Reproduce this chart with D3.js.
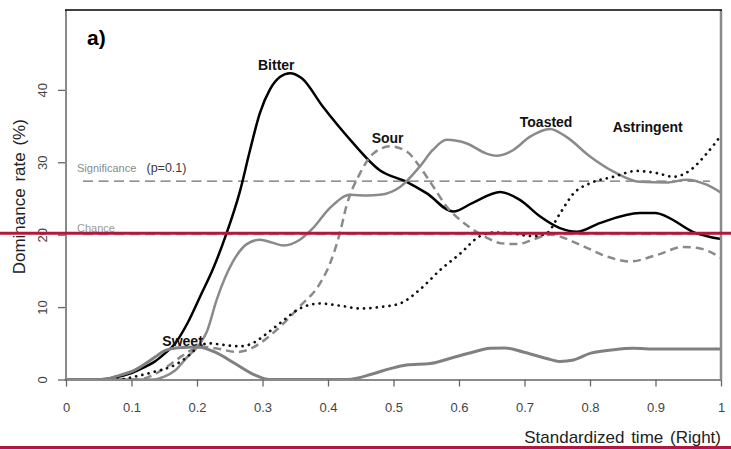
<!DOCTYPE html>
<html>
<head>
<meta charset="utf-8">
<script src="https://cdn.jsdelivr.net/npm/d3@7"></script>
<style>
  html, body { margin: 0; padding: 0; background: #fff; }
  svg { display: block; font-family: "Liberation Sans", Arial, sans-serif; }
</style>
</head>
<body>
<svg id="chart" width="731" height="450"></svg>
<script>
// Dominance rate (%) over standardized time, one [time, rate] list per attribute
const bitter = [[0,0],[0.05,0],[0.07,0.2],[0.1,0.9],[0.12,1.7],[0.136,2.5],[0.151,3.6],[0.166,4.9],[0.185,7.7],[0.205,11.5],[0.225,15.4],[0.244,19.9],[0.265,25.8],[0.281,31.7],[0.296,36.8],[0.311,40],[0.327,41.8],[0.342,42.3],[0.36,41.6],[0.392,37.7],[0.434,33.1],[0.479,28.9],[0.52,27.3],[0.551,25.7],[0.591,23.2],[0.621,24.4],[0.663,25.9],[0.693,24.8],[0.724,22.5],[0.754,20.9],[0.78,20.4],[0.815,21.6],[0.876,23.0],[0.9,23],[0.917,22.5],[0.957,20.4],[1,19.4]];
const sour = [[0,0],[0.11,0],[0.13,0.5],[0.15,1.5],[0.17,2.8],[0.19,4.0],[0.21,4.5],[0.235,4.2],[0.26,3.8],[0.278,4.1],[0.296,5.0],[0.327,7.3],[0.357,10.1],[0.388,13.3],[0.403,16.0],[0.418,20.2],[0.428,23.9],[0.449,28.5],[0.469,31.2],[0.495,32.2],[0.52,31.5],[0.54,29.4],[0.561,26.6],[0.581,23.9],[0.612,21.3],[0.642,19.6],[0.665,18.8],[0.69,18.7],[0.712,19.3],[0.739,20.0],[0.785,18.6],[0.825,17.0],[0.861,16.3],[0.902,17.2],[0.942,18.3],[0.968,18.1],[1,16.8]];
const toasted = [[0,0],[0.135,0],[0.15,0.4],[0.166,1.2],[0.184,3.0],[0.205,5.0],[0.215,6.6],[0.23,11.0],[0.255,16.3],[0.276,18.7],[0.296,19.3],[0.315,18.9],[0.332,18.5],[0.357,19.3],[0.377,20.9],[0.403,23.7],[0.434,25.5],[0.46,25.4],[0.479,25.5],[0.51,26.6],[0.54,29.4],[0.56,31.7],[0.581,33.1],[0.612,32.6],[0.642,31.2],[0.658,30.9],[0.683,31.7],[0.708,33.5],[0.739,34.6],[0.764,33.5],[0.8,30.8],[0.836,28.7],[0.876,27.3],[0.917,27.2],[0.948,27.6],[0.978,26.9],[1,25.8]];
const astringent = [[0,0],[0.08,0],[0.105,0.4],[0.136,1.1],[0.166,2.0],[0.186,3.2],[0.197,4.1],[0.217,5.0],[0.248,4.7],[0.266,4.6],[0.289,5.2],[0.3,5.9],[0.327,7.8],[0.357,9.8],[0.388,10.5],[0.418,10.2],[0.449,9.8],[0.479,10.0],[0.51,10.5],[0.54,12.4],[0.571,15.1],[0.602,17.4],[0.632,19.8],[0.655,20.3],[0.68,20.2],[0.7,19.9],[0.716,19.8],[0.734,20.2],[0.754,22.9],[0.775,25.7],[0.8,27.1],[0.836,28.0],[0.871,28.8],[0.902,28.5],[0.927,28.0],[0.953,28.9],[0.978,31.2],[1,33.7]];
const sweet = [[0,0],[0.06,0],[0.075,0.4],[0.105,1.3],[0.136,3.1],[0.151,4.0],[0.171,4.4],[0.202,4.5],[0.227,3.8],[0.258,2.2],[0.289,0.6],[0.31,0],[0.43,0],[0.469,0.8],[0.495,1.5],[0.52,2.0],[0.556,2.2],[0.586,2.9],[0.622,3.8],[0.647,4.3],[0.67,4.35],[0.698,3.8],[0.734,2.9],[0.754,2.5],[0.775,2.7],[0.8,3.6],[0.836,4.1],[0.866,4.3],[0.902,4.2],[1,4.2]];

// Attribute names and where their labels sit, in [time, rate]
const attributeNames = ["Bitter", "Sour", "Toasted", "Astringent", "Sweet"];
const labelAnchors = [[0.321, 42.8], [0.491, 32.6], [0.733, 34.9], [0.888, 34.2], [0.178, 4.6]];

// Reference levels
const chanceLevel = 20;
const significanceLevel = 27.4;

// Axis ticks
const xTicks = [0, 0.1, 0.2, 0.3, 0.4, 0.5, 0.6, 0.7, 0.8, 0.9, 1];
const xTickLabels = ["0", "0.1", "0.2", "0.3", "0.4", "0.5", "0.6", "0.7", "0.8", "0.9", "1"];
const yTicks = [0, 10, 20, 30, 40];

const svg = d3.select("#chart");
const W = 731, H = 450;
const plot = { left: 66, right: 721, top: 10, bottom: 379.5 };

const x = d3.scaleLinear().domain([0, 1]).range([plot.left, plot.right]);
const y = d3.scaleLinear().domain([0, 51.03]).range([plot.bottom, plot.top]);

// Reference lines
svg.append("line")
  .attr("x1", 83).attr("x2", 710)
  .attr("y1", y(significanceLevel)).attr("y2", y(significanceLevel))
  .attr("stroke", "#6e6e6e").attr("stroke-width", 1.2)
  .attr("stroke-dasharray", "10,5.5");
svg.append("line")
  .attr("x1", 83).attr("x2", 710)
  .attr("y1", y(chanceLevel)).attr("y2", y(chanceLevel))
  .attr("stroke", "#a8a8a8").attr("stroke-width", 1.2)
  .attr("stroke-dasharray", "10,5.5");

svg.append("text").attr("x", 77).attr("y", y(significanceLevel) - 9.5)
  .attr("font-size", 11).attr("fill", "#8a8a8a").text("Significance");
svg.append("text").attr("x", 146.5).attr("y", y(significanceLevel) - 9.5)
  .attr("font-size", 12.5).attr("fill", "#3a3a3a").text("(p=0.1)");
svg.append("text").attr("x", 77).attr("y", y(chanceLevel) - 3)
  .attr("font-size", 11).attr("fill", "#999").text("Chance");

// Series
const line = d3.line()
  .x(d => x(d[0]))
  .y(d => y(d[1]))
  .curve(d3.curveMonotoneX);

const seriesStyles = [
  { data: bitter, stroke: "#000", width: 2.5, dash: null, cap: "butt" },
  { data: sour, stroke: "#8a8a8a", width: 2.5, dash: "8,5", cap: "butt" },
  { data: toasted, stroke: "#8a8a8a", width: 2.5, dash: null, cap: "butt" },
  { data: astringent, stroke: "#111", width: 2.7, dash: "0.1,6.3", cap: "round" },
  { data: sweet, stroke: "#808080", width: 3, dash: null, cap: "butt" }
];

svg.append("g").selectAll("path")
  .data(seriesStyles)
  .join("path")
  .attr("d", d => line(d.data))
  .attr("fill", "none")
  .attr("stroke", d => d.stroke)
  .attr("stroke-width", d => d.width)
  .attr("stroke-dasharray", d => d.dash)
  .attr("stroke-linecap", d => d.cap)
  .attr("stroke-linejoin", "round");

// Attribute labels
svg.append("g").selectAll("text")
  .data(attributeNames)
  .join("text")
  .attr("x", (d, i) => x(labelAnchors[i][0]))
  .attr("y", (d, i) => y(labelAnchors[i][1]))
  .attr("text-anchor", "middle")
  .attr("font-size", 14)
  .attr("font-weight", "bold")
  .attr("fill", "#111")
  .text(d => d);

// Axes
const xAxis = d3.axisBottom(x)
  .tickValues(xTicks)
  .tickFormat((d, i) => xTickLabels[i])
  .tickSize(7).tickSizeOuter(0).tickPadding(16);
const gx = svg.append("g").attr("transform", `translate(0,${plot.bottom})`).call(xAxis);
gx.select(".domain").attr("stroke", "#8a8a8a").attr("stroke-width", 2);
gx.selectAll(".tick line").attr("stroke", "#666").attr("stroke-width", 1.3);
gx.selectAll(".tick text").attr("font-size", 13).attr("fill", "#444")
  .attr("font-family", "Liberation Sans, Arial, sans-serif");

const yAxis = d3.axisLeft(y).tickValues(yTicks).tickSize(8).tickSizeOuter(0);
const gy = svg.append("g").attr("transform", `translate(${plot.left},0)`).call(yAxis);
gy.select(".domain").remove();
gy.selectAll(".tick line").attr("stroke", "#666").attr("stroke-width", 1.3);
gy.selectAll(".tick text")
  .attr("x", null).attr("dy", null)
  .attr("transform", "translate(-19,0) rotate(-90)")
  .attr("text-anchor", "middle")
  .attr("font-size", 13).attr("fill", "#444")
  .attr("font-family", "Liberation Sans, Arial, sans-serif");

// Plot frame
svg.append("line").attr("x1", plot.left).attr("x2", plot.left)
  .attr("y1", plot.top).attr("y2", plot.bottom)
  .attr("stroke", "#8a8a8a").attr("stroke-width", 2);
svg.append("line").attr("x1", plot.right).attr("x2", plot.right)
  .attr("y1", plot.top).attr("y2", plot.bottom)
  .attr("stroke", "#8a8a8a").attr("stroke-width", 2.5);
svg.append("line").attr("x1", plot.left - 1).attr("x2", plot.right + 1)
  .attr("y1", plot.top).attr("y2", plot.top)
  .attr("stroke", "#000").attr("stroke-width", 1.6);

// Panel tag
svg.append("text").attr("x", 87).attr("y", 45)
  .attr("font-size", 21).attr("font-weight", "bold").attr("fill", "#000").text("a)");

// Axis titles
svg.append("text")
  .attr("transform", `translate(25,${(plot.top + plot.bottom) / 2 + 2}) rotate(-90)`)
  .attr("text-anchor", "middle")
  .attr("font-size", 17).attr("fill", "#222")
  .attr("word-spacing", 2)
  .text("Dominance rate (%)");
svg.append("text")
  .attr("x", plot.right).attr("y", 443)
  .attr("text-anchor", "end")
  .attr("font-size", 17).attr("fill", "#222")
  .attr("word-spacing", 2)
  .text("Standardized time (Right)");

// Crimson rules across the full width
svg.append("line").attr("x1", 0).attr("x2", W)
  .attr("y1", y(20.2)).attr("y2", y(20.2))
  .attr("stroke", "#b3183a").attr("stroke-width", 3);
svg.append("line").attr("x1", 0).attr("x2", W)
  .attr("y1", H - 2.5).attr("y2", H - 2.5)
  .attr("stroke", "#b3183a").attr("stroke-width", 3);
</script>
</body>
</html>
